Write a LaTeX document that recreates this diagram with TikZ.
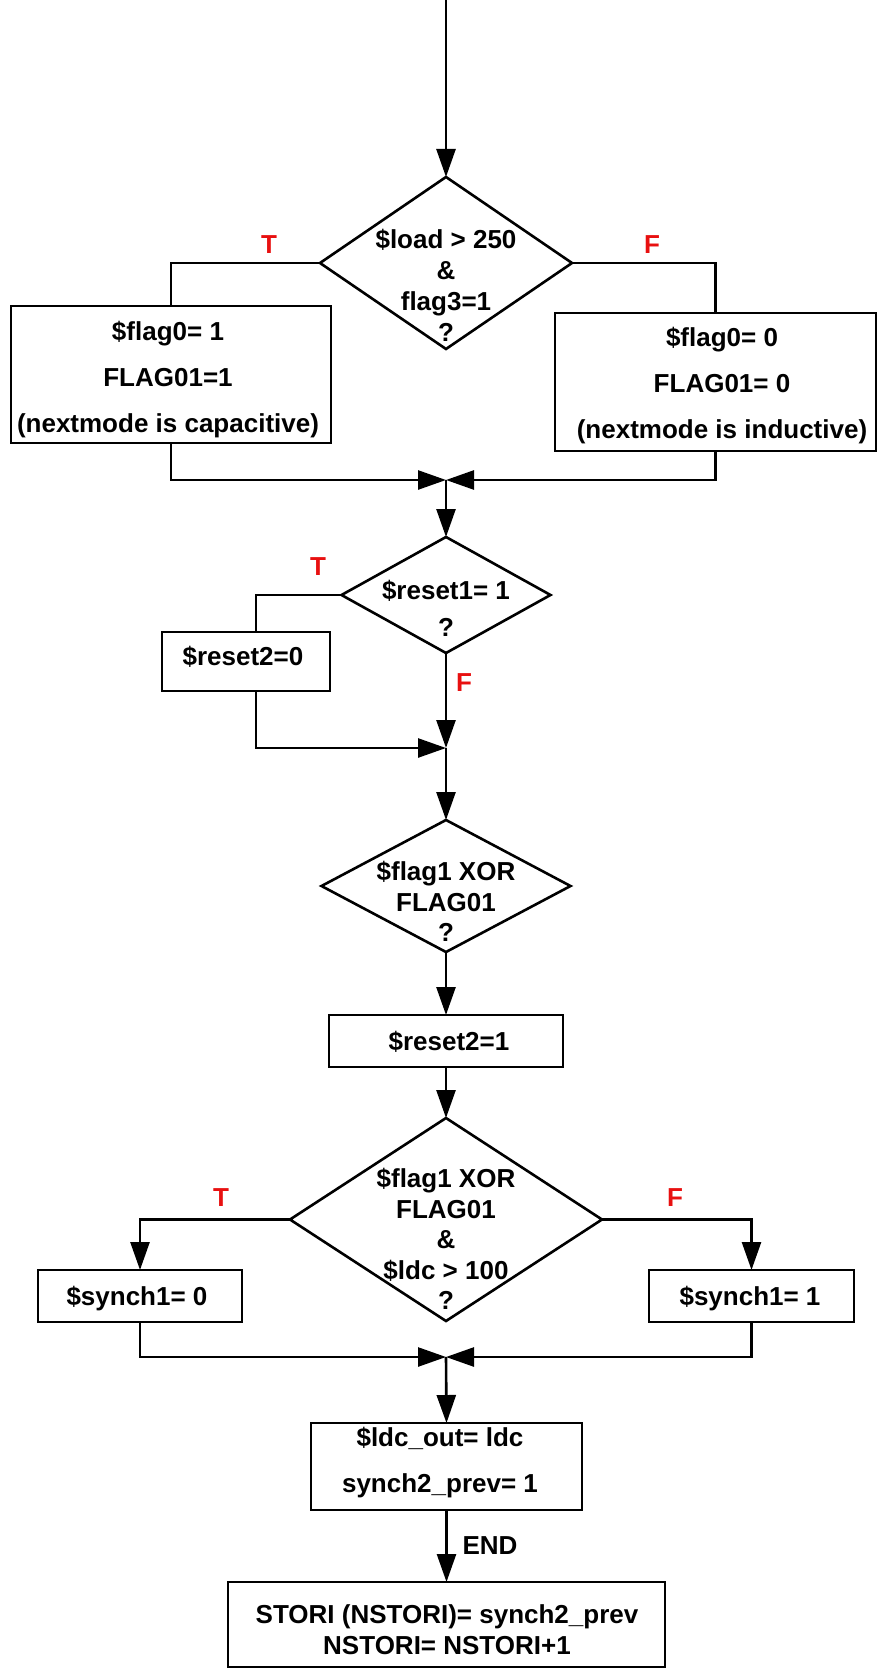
\documentclass[tikz,border=0pt]{standalone}
\usepackage{fontspec}
\setmainfont{Liberation Sans}
\usetikzlibrary{arrows.meta,shapes.geometric}
\definecolor{tfred}{RGB}{232,16,16}
\begin{document}
\begin{tikzpicture}[x=1pt,y=-1pt,
  line width=2.6pt,
  every node/.style={inner sep=0pt,outer sep=0pt},
  txt/.style={font=\bfseries\fontsize{26}{31}\selectfont,align=center},
  wide/.style={font=\bfseries\fontsize{26}{46}\selectfont,align=center},
  tf/.style={font=\bfseries\fontsize{26}{30}\selectfont,text=tfred},
  box/.style={draw,rectangle},
  dia/.style={draw,diamond},
  flow/.style={-{Triangle[length=28pt,width=19pt]}}
]
\useasboundingbox (0,0) rectangle (878,1669);

% ---------- first decision: load and flag3 ----------
\coordinate (start) at (446,0);
\node[dia,minimum width=252pt,minimum height=172pt] (d1) at (446,263) {};
\node[txt] (d1t) at (446,285) {\$load > 250\\\&\\flag3=1\\?};
\node[tf] (t1) at (269,245) {T};
\node[tf] (f1) at (652,245) {F};

\node[box,minimum width=320pt,minimum height=137pt] (b1) at (171,374.5) {};
\node[wide] (b1t) at (168,380) {\$flag0= 1\\FLAG01=1\\(nextmode is capacitive)};
\node[box,minimum width=321pt,minimum height=138pt] (b2) at (715.5,382) {};
\node[wide] (b2t) at (722,386) {\$flag0= 0\\FLAG01= 0\\(nextmode is inductive)};

\draw[flow] (start) -- (d1.north);
\draw (d1.west) -| (b1.north);
\draw (d1.east) -| (b2.north);
\coordinate (m1) at (446,480);
\draw[flow] (b1.south) |- (m1);
\draw[flow] (b2.south) |- (m1);

% ---------- second decision: reset1 ----------
\node[dia,minimum width=209pt,minimum height=116pt] (d2) at (446,595) {};
\node[font=\bfseries\fontsize{26}{37}\selectfont,align=center] (d2t) at (446,608) {\$reset1= 1\\?};
\node[tf] (t2) at (318,567) {T};
\node[tf] (f2) at (464,683) {F};
\node[box,minimum width=168pt,minimum height=59pt] (r20) at (246,661.5) {};
\node[txt] (r20t) at (243,657) {\$reset2=0};

\draw[flow] (m1) -- (d2.north);
\draw (d2.west) -| ([xshift=10pt]r20.north);
\coordinate (m2) at (446,748);
\draw[flow] ([xshift=10pt]r20.south) |- (m2);
\draw[flow] (d2.south) -- (m2);

% ---------- third decision: flag1 xor FLAG01 ----------
\node[dia,minimum width=249pt,minimum height=132pt] (d3) at (446,886) {};
\node[font=\bfseries\fontsize{26}{30.5}\selectfont,align=center] (d3t) at (446,901.5) {\$flag1 XOR\\FLAG01\\?};
\node[box,minimum width=234pt,minimum height=52pt] (b3) at (446,1041) {};
\node[txt] (b3t) at (449,1042) {\$reset2=1};

\draw[flow] (m2) -- (d3.north);
\draw[flow] (d3.south) -- (b3.north);

% ---------- fourth decision: xor and ldc ----------
\node[dia,minimum width=312pt,minimum height=203pt] (d4) at (446,1219.5) {};
\node[font=\bfseries\fontsize{26}{30.5}\selectfont,align=center] (d4t) at (446,1239) {\$flag1 XOR\\FLAG01\\\&\\\$ldc > 100\\?};
\node[tf] (t4) at (221,1198) {T};
\node[tf] (f4) at (675,1198) {F};
\node[box,minimum width=204pt,minimum height=52pt] (s0) at (140,1296) {};
\node[txt] (s0t) at (137,1299) {\$synch1= 0};
\node[box,minimum width=205pt,minimum height=52pt] (s1) at (751.5,1296) {};
\node[txt] (s1t) at (750,1299) {\$synch1= 1};

\draw[flow] (b3.south) -- (d4.north);
\draw[flow] (d4.west) -| (s0.north);
\draw[flow] (d4.east) -| (s1.north);
\coordinate (m3) at (446,1357);
\draw[flow] (s0.south) |- (m3);
\draw[flow] (s1.south) |- (m3);

% ---------- output and storage ----------
\node[box,minimum width=271pt,minimum height=87pt] (b5) at (446.5,1466.5) {};
\node[wide] (b5t) at (440,1462.5) {\$ldc\_out= ldc\\synch2\_prev= 1};
\node[box,minimum width=437pt,minimum height=85pt] (b6) at (446.5,1624.5) {};
\node[txt] (b6t) at (447,1629.5) {STORI (NSTORI)= synch2\_prev\\NSTORI= NSTORI+1};

\draw[flow] (m3) -- (b5.north);
\draw[flow] (b5.south) -- node[anchor=west,xshift=16pt,font=\bfseries\fontsize{26}{30}\selectfont] (endlbl) {END} (b6.north);
\end{tikzpicture}
\end{document}
